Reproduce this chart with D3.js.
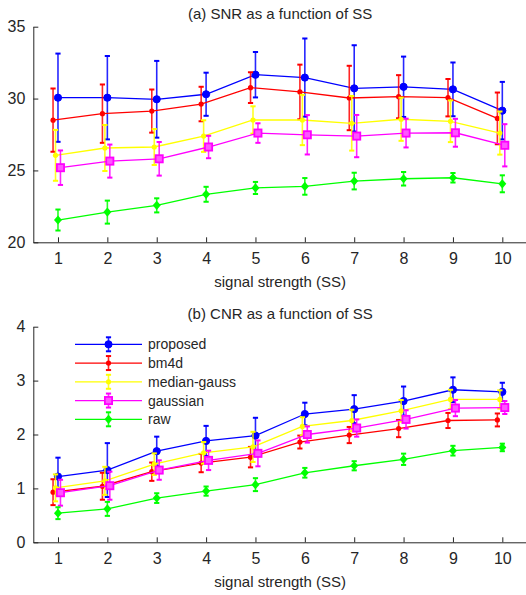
<!DOCTYPE html>
<html>
<head>
<meta charset="utf-8">
<script src="https://cdn.jsdelivr.net/npm/d3@7"></script>
<style>
  body { margin: 0; background: #fff; }
  text { font-family: "Liberation Sans", Arial, sans-serif; fill: #262626; }
</style>
</head>
<body>
<div id="chart"></div>
<script>
// signal strength levels
const ss = [1, 2, 3, 4, 5, 6, 7, 8, 9, 10];
const methods = ["proposed", "bm4d", "median-gauss", "gaussian", "raw"];
const colors = ["#0000ff", "#ff0000", "#ffff00", "#ff00ff", "#00ff00"];
const markers = ["circle", "dot", "dot", "square", "diamond"];
const offsets = [0, -0.1, -0.05, 0.05, 0];

// (a) SNR
const snrProposed = [30.06, 30.06, 29.95, 30.3, 31.66, 31.46, 30.71, 30.82, 30.64, 29.16];
const snrProposedErr = [3.07, 2.9, 2.67, 1.5, 1.58, 2.72, 3.0, 2.1, 1.87, 2.0];
const snrBm4d = [28.5, 28.95, 29.13, 29.62, 30.76, 30.46, 30.04, 30.13, 30.06, 28.62];
const snrBm4dErr = [2.2, 2.03, 1.5, 1.2, 1.07, 1.9, 2.24, 1.5, 1.3, 1.8];
const snrMedian = [26.05, 26.56, 26.63, 27.39, 28.51, 28.51, 28.28, 28.56, 28.42, 27.6];
const snrMedianErr = [1.77, 1.6, 1.25, 1.1, 0.95, 1.75, 1.9, 1.5, 1.45, 1.5];
const snrGauss = [25.19, 25.65, 25.81, 26.63, 27.6, 27.48, 27.39, 27.6, 27.62, 26.75];
const snrGaussErr = [1.2, 1.15, 1.17, 0.78, 0.68, 1.37, 1.47, 1.0, 0.97, 1.47];
const snrRaw = [21.55, 22.1, 22.57, 23.34, 23.78, 23.89, 24.26, 24.42, 24.49, 24.07];
const snrRawErr = [0.73, 0.8, 0.49, 0.52, 0.42, 0.58, 0.58, 0.47, 0.33, 0.59];

// (b) CNR
const cnrProposed = [1.22, 1.34, 1.69, 1.88, 1.98, 2.38, 2.47, 2.62, 2.83, 2.79];
const cnrProposedErr = [0.35, 0.5, 0.27, 0.28, 0.33, 0.21, 0.26, 0.27, 0.23, 0.17];
const cnrBm4d = [0.93, 1.04, 1.31, 1.47, 1.58, 1.86, 1.99, 2.11, 2.26, 2.27];
const cnrBm4dErr = [0.24, 0.25, 0.17, 0.17, 0.19, 0.12, 0.15, 0.16, 0.14, 0.12];
const cnrMedian = [1.01, 1.14, 1.45, 1.66, 1.77, 2.15, 2.26, 2.44, 2.65, 2.65];
const cnrMedianErr = [0.25, 0.26, 0.2, 0.2, 0.28, 0.17, 0.2, 0.2, 0.18, 0.17];
const cnrGauss = [0.92, 1.05, 1.34, 1.52, 1.65, 2.0, 2.12, 2.28, 2.49, 2.5];
const cnrGaussErr = [0.24, 0.26, 0.18, 0.18, 0.24, 0.15, 0.16, 0.17, 0.15, 0.12];
const cnrRaw = [0.54, 0.62, 0.82, 0.95, 1.07, 1.29, 1.42, 1.54, 1.7, 1.76];
const cnrRawErr = [0.11, 0.13, 0.09, 0.085, 0.12, 0.09, 0.085, 0.105, 0.09, 0.07];

const snrTicks = [20, 25, 30, 35];
const cnrTicks = [0, 1, 2, 3, 4];

const width = 526, height = 595;

const svg = d3.select("#chart")
  .append("svg")
  .attr("width", width)
  .attr("height", height);

const x = d3.scaleLinear().domain([0.5, 10.5]).range([33.3, 527]);

function drawMarker(g, type, cx, cy, color) {
  if (type === "circle") {
    g.append("circle").attr("cx", cx).attr("cy", cy).attr("r", 3.6)
      .attr("fill", color).attr("stroke", color);
  } else if (type === "dot") {
    g.append("circle").attr("cx", cx).attr("cy", cy).attr("r", 2.6)
      .attr("fill", color);
  } else if (type === "square") {
    g.append("rect").attr("x", cx - 3.6).attr("y", cy - 3.6)
      .attr("width", 7.2).attr("height", 7.2)
      .attr("fill", "#ff55ff").attr("stroke", color).attr("stroke-width", 1.8);
  } else if (type === "diamond") {
    g.append("path")
      .attr("d", `M${cx},${cy - 4.6}L${cx + 4},${cy}L${cx},${cy + 4.6}L${cx - 4},${cy}Z`)
      .attr("fill", color);
  }
}

function drawErrorBar(g, cx, y0, y1, color) {
  g.append("line").attr("x1", cx).attr("x2", cx).attr("y1", y0).attr("y2", y1)
    .attr("stroke", color).attr("stroke-width", 1.6).attr("stroke-opacity", 0.85);
  [y0, y1].forEach(yy => {
    g.append("line").attr("x1", cx - 2.6).attr("x2", cx + 2.6).attr("y1", yy).attr("y2", yy)
      .attr("stroke", color).attr("stroke-width", 2);
  });
}

function styleAxis(a) {
  a.select(".domain").attr("stroke", "#262626");
  a.selectAll(".tick line").attr("stroke", "#262626");
  a.selectAll("text").style("font-size", "16px").attr("fill", "#262626")
    .attr("font-family", "Liberation Sans, Arial, sans-serif");
}

function drawPanel(opts) {
  const y = d3.scaleLinear().domain(opts.domain).range([opts.bottom, opts.top]);
  const g = svg.append("g");

  // axes
  g.append("g")
    .attr("transform", `translate(0,${opts.bottom})`)
    .call(d3.axisBottom(x).tickValues(ss).tickFormat(d3.format("d"))
      .tickSizeInner(-5).tickSizeOuter(0).tickPadding(10))
    .call(styleAxis);

  g.append("g")
    .attr("transform", `translate(${x(0.5)},0)`)
    .call(d3.axisLeft(y).tickValues(opts.ticks).tickFormat(d3.format("d"))
      .tickSizeInner(-5).tickSizeOuter(0).tickPadding(8))
    .call(styleAxis);

  // series
  opts.series.forEach((s, i) => {
    const sg = g.append("g");
    const xs = ss.map(v => x(v + offsets[i]));
    const line = d3.line().x((d, j) => xs[j]).y(d => y(d));
    sg.append("path").datum(s.mean)
      .attr("d", line)
      .attr("fill", "none")
      .attr("stroke", colors[i])
      .attr("stroke-width", 1.3);
    s.mean.forEach((m, j) => {
      drawErrorBar(sg, xs[j], y(m + s.err[j]), y(m - s.err[j]), colors[i]);
    });
    s.mean.forEach((m, j) => {
      drawMarker(sg, markers[i], xs[j], y(m), colors[i]);
    });
  });

  // title
  g.append("text")
    .attr("x", (x(0.5) + x(10.5)) / 2)
    .attr("y", opts.top - 8)
    .attr("text-anchor", "middle")
    .style("font-size", "15px")
    .text(opts.title);

  // x label
  g.append("text")
    .attr("x", (x(0.5) + x(10.5)) / 2)
    .attr("y", opts.bottom + 45)
    .attr("text-anchor", "middle")
    .style("font-size", "15px")
    .text("signal strength (SS)");

  return g;
}

drawPanel({
  top: 26.7, bottom: 242.3, domain: [20, 35], ticks: snrTicks,
  title: "(a) SNR as a function of SS",
  series: [
    { mean: snrProposed, err: snrProposedErr },
    { mean: snrBm4d, err: snrBm4dErr },
    { mean: snrMedian, err: snrMedianErr },
    { mean: snrGauss, err: snrGaussErr },
    { mean: snrRaw, err: snrRawErr }
  ]
});

drawPanel({
  top: 326.7, bottom: 542.3, domain: [0, 4], ticks: cnrTicks,
  title: "(b) CNR as a function of SS",
  series: [
    { mean: cnrProposed, err: cnrProposedErr },
    { mean: cnrBm4d, err: cnrBm4dErr },
    { mean: cnrMedian, err: cnrMedianErr },
    { mean: cnrGauss, err: cnrGaussErr },
    { mean: cnrRaw, err: cnrRawErr }
  ]
});

// legend
const legend = svg.append("g").attr("transform", "translate(75,344.3)");
methods.forEach((name, i) => {
  const row = legend.append("g").attr("transform", `translate(0,${i * 18.75})`);
  row.append("line").attr("x1", 0).attr("x2", 67).attr("y1", 0).attr("y2", 0)
    .attr("stroke", colors[i]).attr("stroke-width", 1.3);
  drawErrorBar(row, 33.5, -7, 7, colors[i]);
  drawMarker(row, markers[i], 33.5, 0, colors[i]);
  row.append("text")
    .attr("x", 73)
    .attr("y", 5)
    .style("font-size", "14px")
    .text(name);
});
</script>
</body>
</html>
